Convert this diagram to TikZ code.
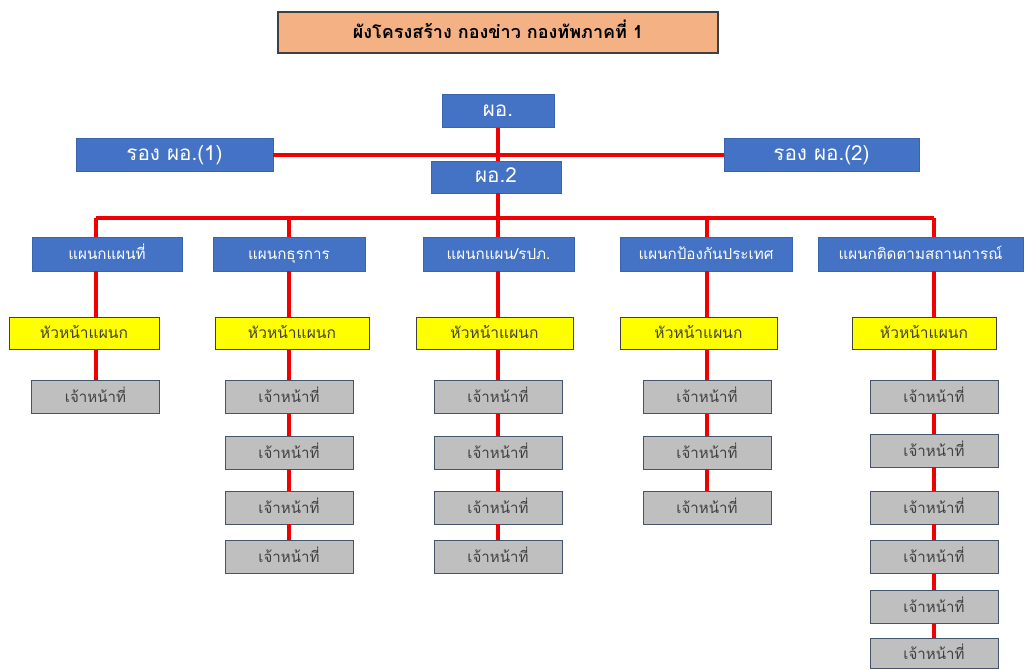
\documentclass[tikz,border=0pt]{standalone}
\usepackage{fontspec}
\newfontfamily\thaifont[Script=Thai]{Loma}
\definecolor{bluebox}{HTML}{4472C4}
\definecolor{blueedge}{HTML}{3A64AD}
\definecolor{salmon}{HTML}{F4B183}
\definecolor{yellowbox}{HTML}{FFFF00}
\definecolor{graybox}{HTML}{BFBFBF}
\definecolor{grayedge}{HTML}{44546A}
\definecolor{linered}{HTML}{F00000}
\definecolor{darktext}{HTML}{404040}
\begin{document}
\begin{tikzpicture}[x=0.75pt,y=-0.75pt,
  base/.style={rectangle,inner sep=0pt,anchor=center,font=\thaifont,text height=1.05em,text depth=0.2em},
  titlebox/.style={base,fill=salmon,draw=darktext,line width=0.8pt,minimum width=330pt,minimum height=30.75pt,font=\thaifont\bfseries\fontsize{13.5}{15}\selectfont},
  bossbox/.style={base,fill=bluebox,draw=blueedge,line width=0.4pt,text=white,minimum height=25pt,font=\thaifont\fontsize{15.5}{17}\selectfont},
  deptbox/.style={base,fill=bluebox,draw=blueedge,line width=0.4pt,text=white,minimum height=25.5pt,font=\thaifont\fontsize{11.4}{13}\selectfont},
  headbox/.style={base,fill=yellowbox,draw=darktext,line width=0.6pt,text=darktext,minimum height=24pt,font=\thaifont\fontsize{11.7}{13}\selectfont},
  staffbox/.style={base,fill=graybox,draw=grayedge,line width=0.6pt,text=darktext,minimum width=96pt,minimum height=24.75pt,font=\thaifont\fontsize{11.3}{13}\selectfont},
  link/.style={draw=linered,line width=3pt}]
\useasboundingbox[fill=white] (0,0) rectangle (1025,669);

% title
\node[titlebox] (title) at (498,32.5) {ผังโครงสร้าง กองข่าว กองทัพภาคที่ 1};

% top level
\node[bossbox,minimum width=84pt] (boss) at (498,111) {ผอ.};
\node[bossbox,minimum width=147.75pt] (r1) at (174.5,154.5) {รอง ผอ.(1)};
\node[bossbox,minimum width=146.25pt] (r2) at (821.5,154.5) {รอง ผอ.(2)};
\node[bossbox,minimum width=97.5pt,minimum height=24pt] (f2) at (496,177) {ผอ.2};

% departments
\node[deptbox,minimum width=112.5pt] (d1) at (107,254) {แผนกแผนที่};
\node[deptbox,minimum width=114pt] (d2) at (289,254) {แผนกธุรการ};
\node[deptbox,minimum width=113.25pt] (d3) at (498.5,254) {แผนกแผน/รปภ.};
\node[deptbox,minimum width=129pt] (d4) at (706,254) {แผนกป้องกันประเทศ};
\node[deptbox,minimum width=153.75pt] (d5) at (920.5,254) {แผนกติดตามสถานการณ์};

% heads
\node[headbox,minimum width=112.5pt] (h1) at (84,333) {หัวหน้าแผนก};
\node[headbox,minimum width=115.5pt] (h2) at (292,333) {หัวหน้าแผนก};
\node[headbox,minimum width=117.75pt] (h3) at (494.5,333) {หัวหน้าแผนก};
\node[headbox,minimum width=117.75pt] (h4) at (698.5,333) {หัวหน้าแผนก};
\node[headbox,minimum width=108pt] (h5) at (924,333) {หัวหน้าแผนก};

% staff
\node[staffbox] (s1a) at (95.5,397) {เจ้าหน้าที่};

\node[staffbox] (s2a) at (289,397) {เจ้าหน้าที่};
\node[staffbox] (s2b) at (289,452.5) {เจ้าหน้าที่};
\node[staffbox] (s2c) at (289,507.5) {เจ้าหน้าที่};
\node[staffbox] (s2d) at (289,557) {เจ้าหน้าที่};

\node[staffbox] (s3a) at (498,397) {เจ้าหน้าที่};
\node[staffbox] (s3b) at (498,452.5) {เจ้าหน้าที่};
\node[staffbox] (s3c) at (498,507.5) {เจ้าหน้าที่};
\node[staffbox] (s3d) at (498,557) {เจ้าหน้าที่};

\node[staffbox] (s4a) at (707,397) {เจ้าหน้าที่};
\node[staffbox] (s4b) at (707,452.5) {เจ้าหน้าที่};
\node[staffbox] (s4c) at (707,507.5) {เจ้าหน้าที่};

\node[staffbox] (s5a) at (934,397) {เจ้าหน้าที่};
\node[staffbox] (s5b) at (934,450.5) {เจ้าหน้าที่};
\node[staffbox] (s5c) at (934,507.5) {เจ้าหน้าที่};
\node[staffbox] (s5d) at (934,557) {เจ้าหน้าที่};
\node[staffbox] (s5e) at (934,607) {เจ้าหน้าที่};
\node[staffbox,minimum height=22.5pt] (s5f) at (934,653.5) {เจ้าหน้าที่};

\coordinate (bar) at (498,218);

% connectors
\draw[link] (boss.south) -- (boss.south |- f2.north);
\draw[link] (r1.east) -- (r2.west);
\draw[link] (boss.south |- f2.south) -- (bar);
\draw[link] (bar -| s1a) -- (bar -| s5a);
\foreach \d/\h/\s in {d1/h1/s1a,d2/h2/s2a,d3/h3/s3a,d4/h4/s4a,d5/h5/s5a}{
  \draw[link] (bar -| \s) -- (\d.north -| \s);
  \draw[link] (\d.south -| \s) -- (\h.north -| \s);
  \draw[link] (\h.south -| \s) -- (\s.north);
}
\foreach \a/\b in {s2a/s2b,s2b/s2c,s2c/s2d,s3a/s3b,s3b/s3c,s3c/s3d,s4a/s4b,s4b/s4c,s5a/s5b,s5b/s5c,s5c/s5d,s5d/s5e,s5e/s5f}{
  \draw[link] (\a.south) -- (\b.north);
}
\end{tikzpicture}
\end{document}
